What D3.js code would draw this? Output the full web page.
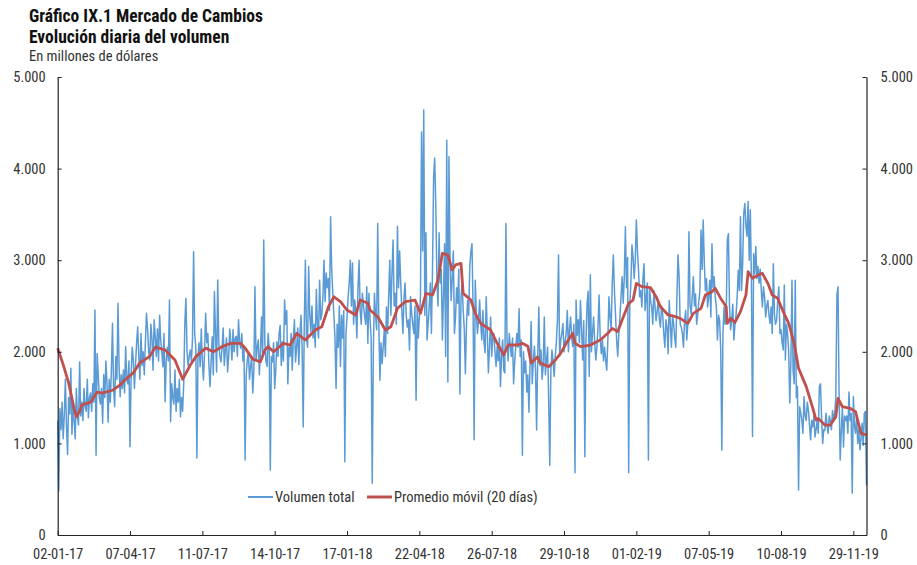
<!DOCTYPE html>
<html>
<head>
<meta charset="utf-8">
<script src="https://cdn.jsdelivr.net/npm/d3@7"></script>
<style>
  body { margin: 0; background: #fff; }
  svg text { font-family: "Liberation Sans Narrow", "Roboto Condensed", Roboto, sans-serif; }
</style>
</head>
<body>
<svg id="chart"></svg>
<script>
// volumen diario (millones de US$), dias habiles desde 02-01-17
const volumen = [
  1250, 480, 1380, 1150, 1450, 1050, 1300, 1700, 1200, 880, 1500, 1320, 1820, 1100, 1400, 1250, 1050, 1600, 1300, 1200,
  1890, 1300, 1450, 1250, 1600, 1400, 1350, 1700, 1280, 1500, 1550, 1350, 1650, 1450, 2456, 870, 1980, 1750, 1500, 1430,
  1600, 1220, 1750, 1500, 1900, 1650, 1230, 1700, 1450, 1800, 2311, 1600, 1400, 1950, 1700, 2530, 1850, 1510, 1750, 1600,
  1800, 1550, 2056, 1700, 1650, 1900, 964, 1750, 2050, 1910, 1600, 1850, 2100, 2274, 1950, 1700, 2200, 1850, 2000, 1750,
  2100, 2420, 2250, 2000, 1910, 2300, 2150, 1800, 2350, 2165, 1950, 2250, 1900, 2400, 2129, 2000, 1838, 2200, 1456, 1900,
  2050, 1900, 2565, 1237, 1650, 1500, 1430, 1800, 1350, 1600, 1450, 1700, 1290, 1500, 1350, 1656, 2311, 2583, 2000, 1850,
  1950, 2020, 1900, 2140, 3093, 2200, 2050, 840, 1950, 2100, 1838, 2250, 1900, 1692, 2000, 2420, 2100, 2200, 1850, 1620,
  1900, 2165, 1750, 2656, 2200, 1780, 2784, 2100, 1950, 1890, 2050, 2260, 1850, 2020, 2150, 1780, 1950, 2250, 2100, 1910,
  2240, 2000, 2150, 2170, 1950, 2350, 2100, 2040, 2200, 1900, 2050, 820, 1750, 1910, 2000, 1700, 1838, 1950, 1550, 1800,
  2711, 1900, 2050, 2130, 1750, 2000, 2380, 1950, 3220, 2100, 1900, 1840, 2200, 2050, 710, 1950, 1890, 2100, 1600, 1800,
  2110, 1950, 2200, 2290, 1850, 2110, 1900, 2565, 2300, 2450, 1650, 2050, 1950, 2200, 1800, 2130, 2350, 1890, 2050, 2260,
  1860, 2200, 2400, 2050, 1180, 2300, 3000, 2150, 2050, 2930, 2400, 2220, 2500, 2150, 2300, 2050, 2680, 2300, 2150, 2780,
  2350, 2410, 2600, 3000, 2550, 2860, 2700, 2800, 2450, 3475, 2900, 2640, 2400, 2150, 1600, 2300, 2050, 2500, 1840, 2400,
  2150, 2450, 800, 2200, 2380, 2600, 2750, 3000, 2500, 2970, 2300, 2565, 2450, 2150, 2700, 3000, 2450, 2300, 2640, 2500,
  2400, 2300, 2711, 2093, 2640, 2350, 2150, 565, 2000, 2640, 2400, 2240, 3400, 2300, 1690, 2100, 1870, 2050, 2240, 1950,
  2490, 2200, 2600, 3000, 2400, 2860, 3220, 2500, 2640, 2300, 3370, 2700, 3100, 2750, 2450, 2200, 2600, 2750, 2400, 2270,
  2350, 2020, 2600, 2420, 2300, 2200, 2500, 1470, 2490, 2150, 2380, 2600, 4400, 3100, 4640, 2400, 3300, 2130, 2300, 2490,
  2750, 2200, 2900, 3912, 4115, 3600, 2800, 2500, 3300, 2750, 2900, 2130, 2600, 3180, 1950, 4310, 1670, 4130, 3000, 2560,
  2800, 3100, 2200, 2380, 2700, 2530, 2900, 1540, 2600, 2750, 2450, 2240, 1760, 2300, 2560, 2400, 2930, 3093, 3180, 2500,
  1040, 2780, 2400, 2200, 2350, 2565, 2300, 2130, 2450, 2100, 1990, 2600, 2200, 1770, 2050, 2380, 1950, 2150, 2200, 2000,
  1840, 2060, 1900, 2150, 1620, 1950, 2130, 1800, 1770, 3400, 2110, 1900, 2200, 2050, 1950, 2150, 1650, 1900, 2060, 2200,
  2050, 2470, 1950, 2130, 870, 2000, 1770, 1900, 1560, 1750, 1340, 1850, 2330, 1650, 1900, 2060, 1800, 1146, 1950, 2490,
  1850, 2020, 1700, 1840, 2380, 1750, 1910, 2050, 1470, 760, 1800, 2020, 1900, 1730, 1950, 2100, 2350, 3057, 1950, 2130,
  2200, 2310, 2000, 2110, 2200, 2450, 2000, 2250, 2380, 2150, 2060, 2300, 680, 2565, 2180, 2350, 2100, 2560, 2250, 1910,
  2340, 855, 2100, 2520, 2660, 1730, 2840, 2000, 2200, 2380, 2100, 1910, 2050, 2270, 2620, 2150, 1980, 2130, 1900, 2050,
  1910, 1800, 2130, 2600, 2380, 2250, 2750, 3057, 2670, 2400, 2130, 1950, 2200, 2380, 2600, 2820, 2530, 2820, 3365, 2700,
  3030, 680, 2500, 2750, 3165, 3030, 2800, 3000, 3440, 3100, 2890, 2600, 2670, 2490, 2800, 2960, 2450, 2600, 2750, 820,
  2700, 2560, 2490, 2300, 2670, 2500, 2340, 2450, 2560, 2350, 2270, 2500, 2410, 2200, 2050, 2350, 2270, 1980, 2560, 2300,
  2050, 2400, 2310, 2150, 2050, 2600, 3060, 2820, 2300, 2270, 2200, 2050, 2340, 2450, 2130, 2300, 3310, 2500, 2410, 2600,
  2820, 2500, 2630, 2300, 2410, 2550, 2670, 3330, 2900, 3440, 2970, 2670, 2800, 2490, 2600, 2780, 2380, 3180, 2700, 2820,
  2600, 2490, 2130, 2400, 2340, 2020, 925, 2200, 2490, 2300, 2410, 3220, 3290, 2500, 2240, 2350, 2520, 2130, 2300, 2410,
  2600, 2890, 2670, 3475, 2670, 2960, 3510, 3620, 3370, 3260, 3640, 3000, 3550, 2780, 1075, 3070, 2850, 3150, 2800, 2930,
  2750, 2900, 2670, 2490, 2710, 2600, 2380, 2500, 2560, 2400, 2310, 2490, 2200, 2960, 2410, 2300, 2340, 2560, 2710, 2200,
  2240, 2100, 2020, 2730, 1910, 2300, 2200, 2000, 1440, 1900, 2780, 1800, 1650, 2780, 1500, 1620, 490, 1400, 1330, 1250,
  1110, 1510, 1300, 1250, 1450, 1360, 1200, 1040, 1250, 1180, 1300, 1070, 1150, 1250, 1110, 1620, 1650, 1300, 1000, 1150,
  1140, 1330, 1200, 1110, 1300, 1250, 1150, 1360, 1250, 1330, 1500, 2620, 2710, 1510, 820, 1140, 1400, 960, 1300, 1250,
  1300, 1110, 1560, 1250, 1330, 455, 1510, 1200, 1110, 1300, 1000, 1150, 930, 1050, 1220, 980, 1330, 1350, 540
];

const pmDia = [0, 5, 10, 15, 17, 20, 22, 30, 36, 41, 50, 57, 63, 69, 75, 84, 89, 98, 107, 114,
  121, 126, 135, 142, 150, 158, 167, 171, 178, 185, 189, 192, 197, 206, 212, 218, 226, 235, 241, 247,
  252, 258, 264, 272, 276, 283, 285, 292, 299, 304, 310, 317, 326, 331, 336, 342, 347, 351, 356, 360,
  363, 368, 370, 377, 381, 386, 395, 401, 407, 411, 420, 424, 429, 432, 438, 440, 448, 454, 459, 464,
  470, 472, 477, 486, 495, 502, 506, 511, 515, 518, 521, 525, 528, 533, 541, 546, 550, 557, 564, 568,
  575, 580, 587, 591, 597, 600, 605, 610, 611, 614, 618, 623, 628, 630, 634, 639, 643, 648, 652, 657,
  662, 667, 672, 676, 683, 689, 692, 694, 700, 705, 710, 712, 716, 723, 728, 733, 738];
const pmValor = [2040, 1860, 1660, 1380, 1290, 1350, 1420, 1450, 1560, 1550, 1580, 1640, 1710, 1770, 1880, 1950, 2050, 2020, 1910, 1700,
  1856, 1947, 2040, 2000, 2056, 2093, 2093, 2040, 1920, 1890, 2020, 2056, 2000, 2093, 2074, 2200, 2130, 2238, 2274, 2490,
  2600, 2547, 2456, 2402, 2565, 2530, 2456, 2383, 2238, 2274, 2474, 2547, 2565, 2420, 2638, 2620, 2784, 3075, 3057, 2893,
  2948, 2966, 2638, 2565, 2420, 2311, 2238, 2093, 1965, 2074, 2074, 2093, 2060, 1877, 1947, 1877, 1838, 1910, 1986, 2093,
  2202, 2093, 2056, 2074, 2129, 2202, 2256, 2220, 2347, 2438, 2530, 2565, 2747, 2711, 2700, 2602, 2492, 2402, 2383, 2365,
  2311, 2420, 2474, 2620, 2656, 2693, 2583, 2492, 2311, 2365, 2320, 2438, 2620, 2875, 2802, 2838, 2857, 2747, 2620, 2583,
  2438, 2311, 2093, 1820, 1620, 1385, 1255, 1273, 1200, 1200, 1292, 1492, 1401, 1383, 1347, 1110, 1092];

const tickDia = [0, 66, 132, 198, 264, 330, 396, 462, 528, 594, 660, 726];
const tickFecha = ["02-01-17", "07-04-17", "11-07-17", "14-10-17", "17-01-18", "22-04-18",
  "26-07-18", "29-10-18", "01-02-19", "07-05-19", "10-08-19", "29-11-19"];
const yTicks = [0, 1000, 2000, 3000, 4000, 5000];

const W = 917, H = 565;
const plot = {left: 57.7, right: 866.5, top: 77, bottom: 535};

const svg = d3.select("#chart").attr("width", W).attr("height", H);

const x = d3.scaleLinear().domain([0, volumen.length - 1]).range([plot.left, plot.right]);
const y = d3.scaleLinear().domain([0, 5000]).range([plot.bottom, plot.top]);

const es = d3.formatLocale({decimal: ",", thousands: ".", grouping: [3], currency: ["$", ""]});
const fmt = es.format(",");

// titulos
svg.append("text").attr("x", 29).attr("y", 22)
  .style("font-size", "17.5px").style("font-weight", "bold").attr("fill", "#111")
  .text("Gráfico IX.1 Mercado de Cambios");
svg.append("text").attr("x", 29).attr("y", 43)
  .style("font-size", "17.5px").style("font-weight", "bold").attr("fill", "#111")
  .text("Evolución diaria del volumen");
svg.append("text").attr("x", 29).attr("y", 61)
  .style("font-size", "14.5px").attr("fill", "#333")
  .text("En millones de dólares");

// lineas
const lineaVol = d3.line().x((d, i) => x(i)).y(d => y(d));
svg.append("path").datum(volumen)
  .attr("fill", "none").attr("stroke", "#5B9BD5").attr("stroke-width", 1.5)
  .attr("stroke-linejoin", "round")
  .attr("d", lineaVol);

const lineaPm = d3.line().x(d => x(d[0])).y(d => y(d[1]));
svg.append("path").datum(pmDia.map((d, i) => [d, pmValor[i]]))
  .attr("fill", "none").attr("stroke", "#C0504D").attr("stroke-width", 2.8)
  .attr("stroke-linejoin", "round")
  .attr("d", lineaPm);

// ejes
function estilo(g, size) {
  g.selectAll(".domain").attr("stroke", "#222").attr("stroke-width", 1.2);
  g.selectAll(".tick line").attr("stroke", "#222").attr("stroke-width", 1);
  g.selectAll("text").attr("fill", "#333").style("font-size", size);
}

svg.append("g").attr("transform", `translate(${plot.left},0)`)
  .call(d3.axisLeft(y).tickValues(yTicks).tickFormat(fmt).tickSizeInner(-4).tickSizeOuter(0).tickPadding(12))
  .call(g => estilo(g, "14.5px"));

svg.append("g").attr("transform", `translate(${plot.right},0)`)
  .call(d3.axisRight(y).tickValues(yTicks).tickFormat(fmt).tickSizeInner(-4).tickSizeOuter(0).tickPadding(14))
  .call(g => estilo(g, "14.5px"));

svg.append("g").attr("transform", `translate(0,${plot.bottom})`)
  .call(d3.axisBottom(x).tickValues(tickDia).tickFormat((d, i) => tickFecha[i]).tickSizeInner(-4).tickSizeOuter(0).tickPadding(14))
  .call(g => estilo(g, "14.5px"));

// leyenda
const ley = [
  {nombre: "Volumen total", color: "#5B9BD5", ancho: 2, x: 248},
  {nombre: "Promedio móvil (20 días)", color: "#C0504D", ancho: 3, x: 367}
];
const gl = svg.append("g").attr("transform", "translate(0,497)");
ley.forEach(d => {
  gl.append("line").attr("x1", d.x).attr("x2", d.x + 25).attr("y1", 0).attr("y2", 0)
    .attr("stroke", d.color).attr("stroke-width", d.ancho);
  gl.append("text").attr("x", d.x + 27).attr("y", 5)
    .attr("fill", "#333").style("font-size", "14.5px").text(d.nombre);
});
</script>
</body>
</html>
